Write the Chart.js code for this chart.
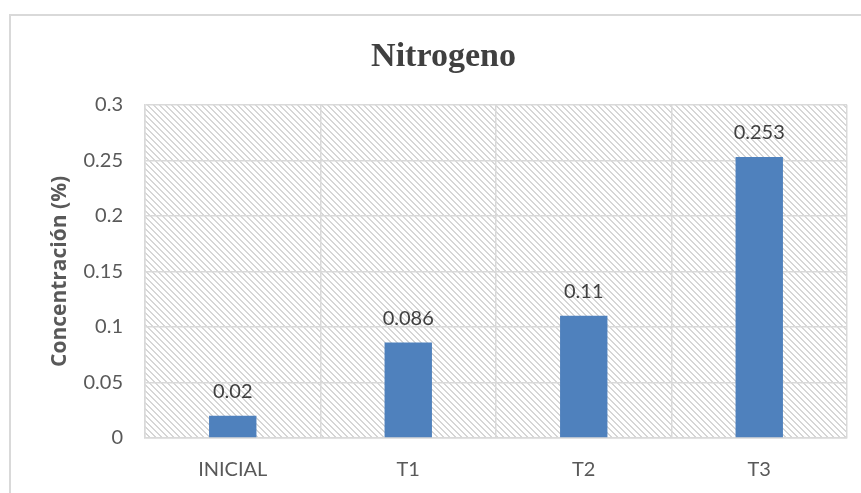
<!DOCTYPE html>
<html>
<head>
<meta charset="utf-8">
<script src="https://cdn.jsdelivr.net/npm/chart.js@4.4.1/dist/chart.umd.min.js"></script>
<style>
  html, body { margin: 0; padding: 0; background: #ffffff; }
  #wrap { width: 861px; height: 493px; position: relative; }
</style>
</head>
<body>
<div id="wrap"><canvas id="chart" width="861" height="493"></canvas></div>
<script>
// Nitrogen concentration by treatment
const categories = ['INICIAL', 'T1', 'T2', 'T3'];
const nitrogenValues = [0.02, 0.086, 0.11, 0.253];
const yTickLabels = ['0', '0.05', '0.1', '0.15', '0.2', '0.25', '0.3'];

const SANS = 'Lato, "Open Sans", "Liberation Sans", sans-serif';

// Light diagonal hatch for the plot background
function makeHatch() {
  const size = 6;
  const c = document.createElement('canvas');
  c.width = size; c.height = size;
  const g = c.getContext('2d');
  g.fillStyle = '#ffffff';
  g.fillRect(0, 0, size, size);
  g.fillStyle = '#d6d6d6';
  for (let i = 0; i < size; i++) {
    g.fillRect(i % size, i, 1, 1);
    g.fillRect((i + 1) % size, i, 1, 1);
  }
  return g.createPattern(c, 'repeat');
}

const backdrop = {
  id: 'backdrop',
  beforeDraw(chart) {
    const ctx = chart.ctx;
    const a = chart.chartArea;
    ctx.save();
    // frame around the whole chart
    ctx.fillStyle = '#d9d9d9';
    ctx.fillRect(9, 14, 2, chart.height - 14);
    ctx.fillRect(9, 14, chart.width - 9, 2);
    // hatched plot area
    ctx.fillStyle = makeHatch();
    ctx.fillRect(a.left, a.top, a.right - a.left, a.bottom - a.top);
    ctx.restore();
  }
};

const valueLabels = {
  id: 'valueLabels',
  afterDatasetsDraw(chart) {
    const ctx = chart.ctx;
    const meta = chart.getDatasetMeta(0);
    ctx.save();
    ctx.font = '20px ' + SANS;
    ctx.fillStyle = '#404040';
    ctx.textAlign = 'center';
    ctx.textBaseline = 'middle';
    meta.data.forEach((bar, i) => {
      ctx.fillText(String(nitrogenValues[i]), bar.x, bar.y - 24);
    });
    ctx.restore();
  }
};

new Chart(document.getElementById('chart'), {
  type: 'bar',
  data: {
    labels: categories,
    datasets: [{
      label: 'Nitrogeno',
      data: nitrogenValues,
      backgroundColor: '#4f81bd',
      borderWidth: 0,
      categoryPercentage: 0.54,
      barPercentage: 0.5
    }]
  },
  options: {
    responsive: false,
    devicePixelRatio: 1,
    animation: false,
    layout: { padding: { left: 40, right: 14, top: 0, bottom: 0 } },
    plugins: {
      legend: { display: false },
      tooltip: { enabled: false },
      title: {
        display: true,
        text: 'Nitrogeno',
        color: '#404040',
        font: { family: '"Liberation Serif", "DejaVu Serif", serif', size: 34, weight: 'bold', lineHeight: 1.2 },
        padding: { top: 37, bottom: 27 }
      }
    },
    scales: {
      x: {
        grid: { color: '#d9d9d9', lineWidth: 1.5, drawTicks: false, offset: true },
        border: { color: '#d9d9d9', width: 1.5 },
        ticks: { color: '#595959', font: { family: SANS, size: 20 }, padding: 20 },
        afterFit(scale) { scale.height = 55; }
      },
      y: {
        min: 0,
        max: 0.3,
        ticks: {
          stepSize: 0.05,
          color: '#595959',
          font: { family: SANS, size: 20 },
          padding: 22,
          callback: (v, i) => yTickLabels[i]
        },
        grid: { color: '#d9d9d9', lineWidth: 1.5, drawTicks: false },
        border: { color: '#d9d9d9', width: 1.5 },
        title: {
          display: true,
          text: 'Concentración (%)',
          color: '#595959',
          font: { family: '"Open Sans", Lato, sans-serif', size: 21, weight: 'bold', lineHeight: 1.2 },
          padding: { top: 7, bottom: 0 }
        },
        afterFit(scale) { scale.width = 105; }
      }
    }
  },
  plugins: [backdrop, valueLabels]
});
</script>
</body>
</html>
